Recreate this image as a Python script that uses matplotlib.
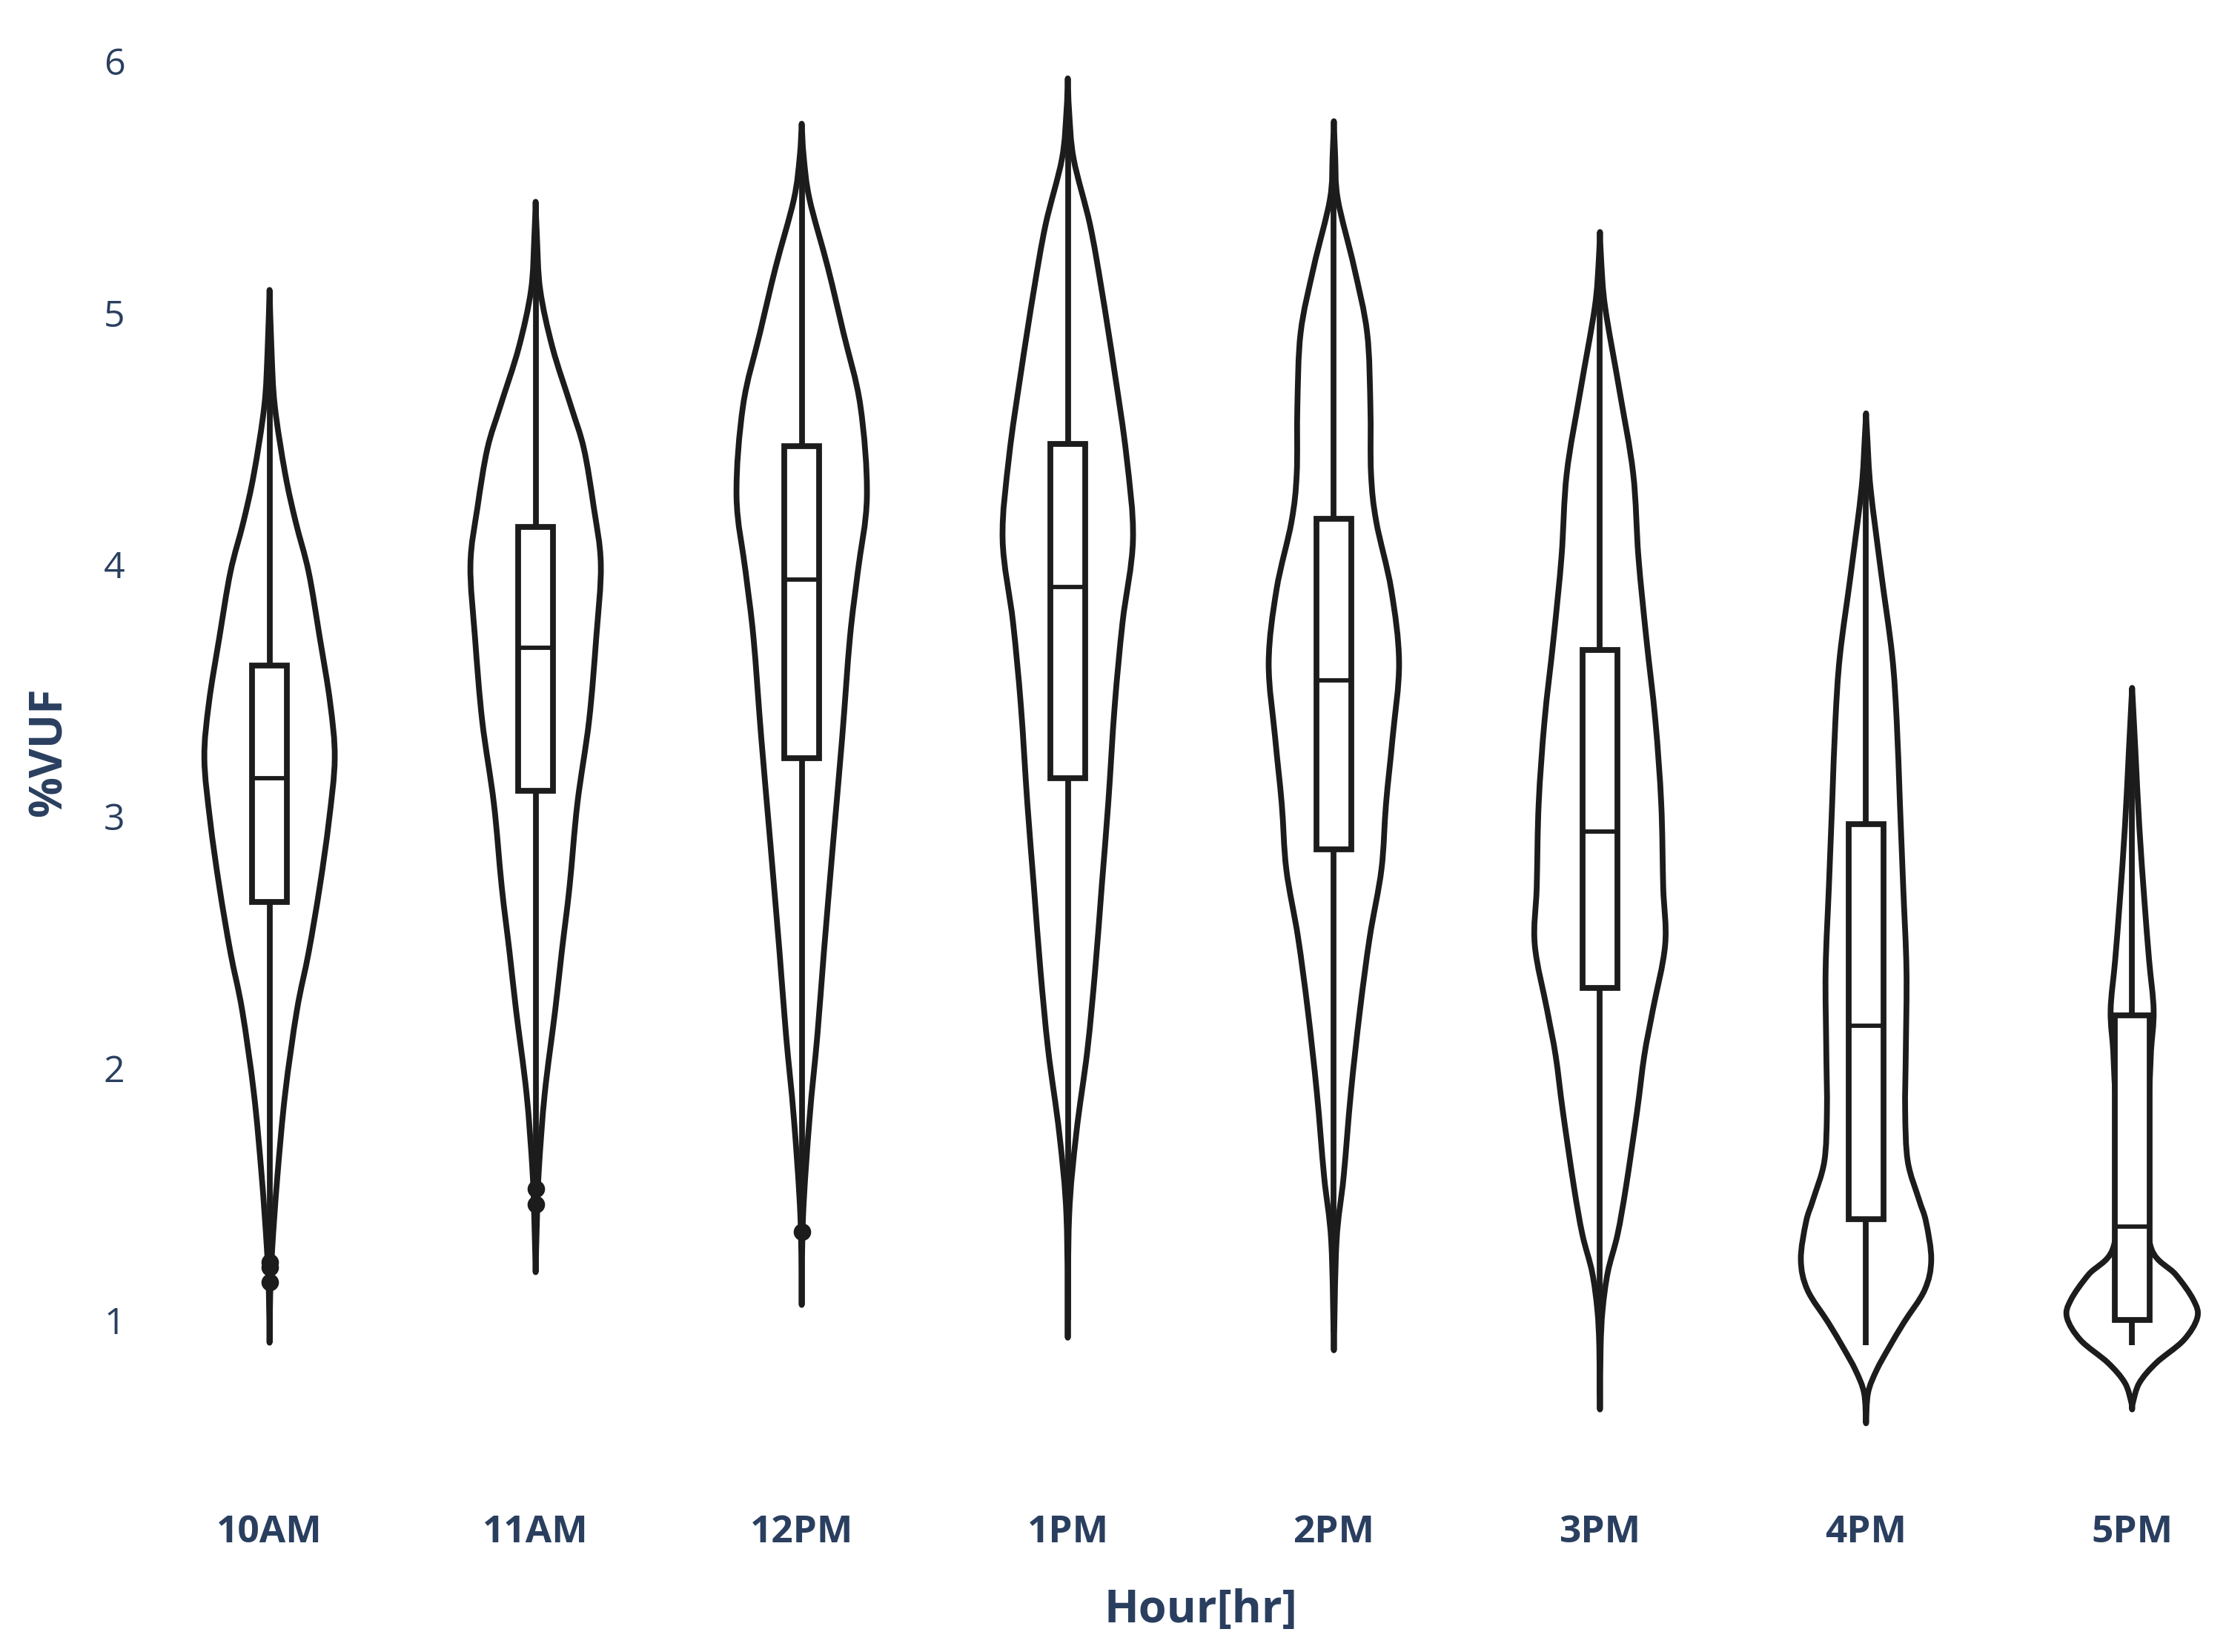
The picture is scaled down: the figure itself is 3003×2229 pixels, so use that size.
import matplotlib
matplotlib.use("Agg")
import matplotlib.pyplot as plt
from matplotlib.path import Path
from matplotlib.patches import PathPatch

# ---------------- data ----------------
categories = ['10AM', '11AM', '12PM', '1PM', '2PM', '3PM', '4PM', '5PM']

# violin density profiles: y values and relative half-widths (1 = widest)
prof_10am_y = [0.91, 1.10, 1.28, 1.57, 1.90, 2.23, 2.46, 2.72, 2.98, 3.23, 3.45, 3.71, 3.97, 4.17, 4.36, 4.63, 4.85, 5.09]
prof_10am_w = [0.00, 0.01, 0.04, 0.12, 0.24, 0.42, 0.60, 0.77, 0.91, 1.00, 0.93, 0.77, 0.60, 0.40, 0.24, 0.08, 0.03, 0.00]

prof_11am_y = [1.19, 1.40, 1.60, 1.90, 2.23, 2.46, 2.72, 3.05, 3.38, 3.71, 4.00, 4.23, 4.46, 4.63, 4.86, 5.09, 5.30, 5.44]
prof_11am_w = [0.00, 0.02, 0.05, 0.14, 0.30, 0.40, 0.52, 0.64, 0.82, 0.93, 1.00, 0.89, 0.74, 0.54, 0.26, 0.07, 0.02, 0.00]

prof_12pm_y = [1.06, 1.41, 1.80, 2.13, 2.46, 2.89, 3.31, 3.71, 3.97, 4.27, 4.63, 4.92, 5.18, 5.45, 5.62, 5.75]
prof_12pm_w = [0.00, 0.02, 0.12, 0.24, 0.34, 0.48, 0.62, 0.74, 0.86, 1.00, 0.90, 0.64, 0.40, 0.12, 0.03, 0.00]

prof_1pm_y = [0.93, 1.41, 1.74, 2.07, 2.39, 2.72, 3.05, 3.44, 3.77, 4.10, 4.43, 4.76, 5.09, 5.35, 5.61, 5.80, 5.93]
prof_1pm_w = [0.00, 0.02, 0.13, 0.30, 0.42, 0.52, 0.62, 0.72, 0.84, 1.00, 0.90, 0.72, 0.52, 0.34, 0.09, 0.02, 0.00]

prof_2pm_y = [0.88, 1.31, 1.57, 1.90, 2.23, 2.52, 2.79, 3.05, 3.31, 3.61, 3.90, 4.17, 4.36, 4.63, 4.92, 5.18, 5.45, 5.62, 5.76]
prof_2pm_w = [0.00, 0.04, 0.15, 0.26, 0.40, 0.55, 0.73, 0.80, 0.90, 1.00, 0.88, 0.65, 0.57, 0.56, 0.51, 0.31, 0.06, 0.02, 0.00]

prof_3pm_y = [0.645, 0.89, 1.04, 1.19, 1.34, 1.53, 1.83, 2.05, 2.23, 2.49, 2.72, 3.05, 3.38, 3.71, 4.03, 4.36, 4.69, 5.02, 5.20, 5.32]
prof_3pm_w = [0.00, 0.01, 0.04, 0.12, 0.27, 0.40, 0.57, 0.68, 0.81, 1.00, 0.97, 0.94, 0.85, 0.71, 0.59, 0.51, 0.30, 0.08, 0.02, 0.00]

prof_4pm_y = [0.59, 0.71, 0.80, 0.89, 0.99, 1.12, 1.24, 1.39, 1.48, 1.63, 1.83, 2.07, 2.39, 2.72, 3.05, 3.38, 3.64, 3.97, 4.30, 4.50, 4.60]
prof_4pm_w = [0.00, 0.03, 0.16, 0.35, 0.58, 0.90, 1.00, 0.92, 0.81, 0.64, 0.60, 0.61, 0.62, 0.57, 0.52, 0.47, 0.40, 0.23, 0.07, 0.02, 0.00]

prof_5pm_y = [0.645, 0.67, 0.75, 0.83, 0.92, 1.01, 1.08, 1.18, 1.28, 1.50, 1.75, 1.95, 2.07, 2.23, 2.43, 2.66, 2.96, 3.26, 3.51]
prof_5pm_w = [0.00, 0.01, 0.11, 0.37, 0.79, 1.00, 0.94, 0.67, 0.30, 0.20, 0.22, 0.27, 0.29, 0.33, 0.26, 0.19, 0.11, 0.05, 0.00]

# box statistics
q1 = [2.66, 3.10, 3.23, 3.15, 2.87, 2.32, 1.40, 1.00]
median = [3.15, 3.67, 3.94, 3.91, 3.54, 2.94, 2.17, 1.37]
q3 = [3.60, 4.15, 4.47, 4.48, 4.18, 3.66, 2.97, 2.21]
whisker_low = [1.27, 1.55, 1.40, 1.00, 0.95, 0.70, 0.90, 0.90]
whisker_high = [5.00, 5.40, 5.70, 5.88, 5.70, 5.28, 4.55, 3.48]

# outliers (category index, value)
outlier_cat = [0, 0, 0, 1, 1, 2]
outlier_val = [1.23, 1.21, 1.15, 1.52, 1.46, 1.35]

profiles_y = [prof_10am_y, prof_11am_y, prof_12pm_y, prof_1pm_y,
              prof_2pm_y, prof_3pm_y, prof_4pm_y, prof_5pm_y]
profiles_w = [prof_10am_w, prof_11am_w, prof_12pm_w, prof_1pm_w,
              prof_2pm_w, prof_3pm_w, prof_4pm_w, prof_5pm_w]

# ---------------- style ----------------
LINE = '#1c1c1c'
TEXT = '#2a3f5f'
VIOLIN_HALF = 0.245   # max half width in category units
BOX_HALF = 0.065
LW = 5.6

plt.rcParams['font.family'] = ['Open Sans', 'DejaVu Sans']


def smooth_side(pts):
    """Catmull-Rom spline through the profile points, as Bezier path pieces."""
    verts = [pts[0]]
    codes = []
    n = len(pts)
    for k in range(n - 1):
        p0 = pts[k - 1] if k > 0 else pts[k]
        p1 = pts[k]
        p2 = pts[k + 1]
        p3 = pts[k + 2] if k + 2 < n else pts[k + 1]
        c1 = (p1[0] + (p2[0] - p0[0]) / 6.0, p1[1] + (p2[1] - p0[1]) / 6.0)
        c2 = (p2[0] - (p3[0] - p1[0]) / 6.0, p2[1] - (p3[1] - p1[1]) / 6.0)
        verts += [c1, c2, p2]
        codes += [Path.CURVE4] * 3
    return verts, codes


W, H = 3003, 2229
fig = plt.figure(figsize=(W / 100, H / 100), dpi=100)
ax_left, ax_right, ax_top, ax_bottom = 238, 3002, 31, 1968
ax = fig.add_axes([ax_left / W, 1 - ax_bottom / H, (ax_right - ax_left) / W, (ax_bottom - ax_top) / H])

for i, (ys, ws) in enumerate(zip(profiles_y, profiles_w)):
    left = [(i - w * VIOLIN_HALF, y) for w, y in zip(ws, ys)]
    right = [(i + w * VIOLIN_HALF, y) for w, y in zip(ws, ys)][::-1]
    lv, lc = smooth_side(left)
    rv, rc = smooth_side(right)
    verts = lv + rv[1:] + [lv[0]]
    codes = [Path.MOVETO] + lc + rc + [Path.CLOSEPOLY]
    patch = PathPatch(Path(verts, codes), facecolor='white', edgecolor=LINE,
                      linewidth=LW, joinstyle='round', zorder=2)
    ax.add_patch(patch)
    # whiskers
    ax.plot([i, i], [whisker_low[i], q1[i]], color=LINE, lw=LW, solid_capstyle='butt', zorder=3)
    ax.plot([i, i], [q3[i], whisker_high[i]], color=LINE, lw=LW, solid_capstyle='butt', zorder=3)
    # box
    ax.fill([i - BOX_HALF, i + BOX_HALF, i + BOX_HALF, i - BOX_HALF],
            [q1[i], q1[i], q3[i], q3[i]], facecolor='white', edgecolor=LINE,
            linewidth=LW, joinstyle='miter', zorder=4)
    ax.plot([i - BOX_HALF, i + BOX_HALF], [median[i], median[i]], color=LINE, lw=4.2,
            solid_capstyle='butt', zorder=5)

ax.plot(outlier_cat, outlier_val, 'o', color=LINE, markersize=17, markeredgewidth=0, zorder=6)

ax.set_xlim(-0.35, 7.35)
ax.set_ylim(0.45, 6.15)
ax.set_xticks(range(len(categories)))
ax.set_xticklabels(categories, fontsize=37, fontweight='bold', color=TEXT)
ax.set_yticks([1, 2, 3, 4, 5, 6])
ax.set_yticklabels(['1', '2', '3', '4', '5', '6'], fontsize=36, color=TEXT)
ax.tick_params(axis='x', length=0, pad=54)
ax.tick_params(axis='y', length=0, pad=50)
for s in ax.spines.values():
    s.set_visible(False)

fig.text(1620 / W, 1 - 2173 / H, 'Hour[hr]', ha='center', va='center',
         fontsize=44, fontweight='bold', color=TEXT)
fig.text(67 / W, 1 - 1015 / H, '%VUF', ha='center', va='center', rotation=90,
         fontsize=44, fontweight='bold', color=TEXT)

fig.savefig('out.png', dpi=100, facecolor='white')
